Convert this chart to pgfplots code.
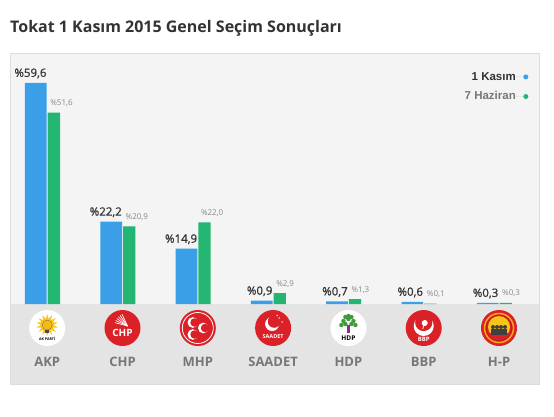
\documentclass[border=0pt]{standalone}
\usepackage{pgfplots}
\pgfplotsset{compat=1.18}
\usetikzlibrary{shapes.geometric}
\usepackage{fontspec}
\setmainfont{Open Sans}
\newfontfamily\arialf{Liberation Sans}
\newfontfamily\osemi{Open Sans}[FakeBold=0.7]
\definecolor{cblue}{HTML}{3A9FE6}
\definecolor{cgreen}{HTML}{22B672}
\definecolor{panel}{HTML}{F4F4F4}
\definecolor{band}{HTML}{E4E4E4}
\definecolor{bord}{HTML}{DDDDDD}
\definecolor{lblgray}{HTML}{777777}
\definecolor{smallgray}{HTML}{888888}
\definecolor{dark}{HTML}{333333}
\definecolor{pred}{HTML}{DA2128}
\definecolor{hdpgreen}{HTML}{3E9A3A}
\definecolor{hdppurple}{HTML}{8B2C8E}
\definecolor{sunyellow}{HTML}{F7C418}
\begin{document}
\begin{tikzpicture}
\useasboundingbox[fill=white] (0,0) rectangle (554pt,417pt);
\begin{axis}[
  at={(10pt,33pt)}, anchor=south west,
  scale only axis, width=529pt, height=331pt,
  xmin=-0.494, xmax=6.531, ymin=-21.56, ymax=67.65,
  axis background/.style={fill=panel},
  axis line style={draw=bord},
  axis on top,
  xtick={0,...,6},
  xticklabels={AKP,CHP,MHP,SAADET,HDP,BBP,H-P},
  xticklabel style={anchor=center, yshift=22pt, font=\fontsize{13}{13}\selectfont\bfseries, text=lblgray},
  major tick length=0pt, ytick=\empty,
  clip=false,
  title={Tokat 1 Kasım 2015 Genel Seçim Sonuçları},
  title style={at={(0,1)}, anchor=base west, yshift=14pt, inner sep=0pt, font=\fontsize{16}{16}\selectfont\bfseries, text=dark},
  legend style={at={(1,1)}, anchor=north east, xshift=-10.5pt, yshift=-19pt, draw=none, fill=none, inner sep=0pt,
    row sep=10pt, column sep=0pt,
    font=\arialf\bfseries\fontsize{11.5}{11.5}\selectfont,
    nodes={inner sep=0pt}},
  legend cell align=right,
  legend plot pos=right,
]
% grey band under the bars
\fill[band] (axis cs:-0.494,-21.56) rectangle (axis cs:6.531,0);

\addplot[ybar, bar width=21.7pt, bar shift=-11.35pt, fill=cblue, draw=none,
  legend image code/.code={\path (-2pt,0pt) -- (10.5pt,0pt); \fill[cblue] (8pt,0pt) circle (2.5pt);},
  nodes near coords, point meta=explicit symbolic,
  every node near coord/.style={anchor=base east, inner sep=0pt, xshift=-0.5pt, yshift=6pt,
    font=\osemi\fontsize{11.5}{11.5}\selectfont, text=dark}]
  coordinates {(0,59.6)[\%59,6] (1,22.2)[\%22,2] (2,14.9)[\%14,9] (3,0.9)[\%0,9] (4,0.7)[\%0,7] (5,0.6)[\%0,6] (6,0.3)[\%0,3]};
\addlegendentry{\textcolor{dark}{1 Kasım}}

\addplot[ybar, bar width=12.3pt, bar shift=6.65pt, fill=cgreen, draw=none,
  legend image code/.code={\path (-2pt,0pt) -- (10.5pt,0pt); \fill[cgreen] (8pt,0pt) circle (2.5pt);},
  nodes near coords, point meta=explicit symbolic,
  every node near coord/.style={anchor=base west, inner sep=0pt, xshift=3pt, yshift=7pt,
    font=\fontsize{8}{8}\selectfont, text=smallgray}]
  coordinates {(0,51.6)[\%51,6] (1,20.9)[\%20,9] (2,22.0)[\%22,0] (3,2.9)[\%2,9] (4,1.3)[\%1,3] (5,0.1)[\%0,1] (6,0.3)[\%0,3]};
\addlegendentry{\textcolor{lblgray}{7 Haziran}}

% party logo discs
\fill[white] (axis cs:0,-6.47) circle (18pt);
\fill[pred] (axis cs:1,-6.47) circle (18pt);
\fill[pred] (axis cs:2,-6.47) circle (18pt);
\fill[pred] (axis cs:3,-6.47) circle (18pt);
\fill[white] (axis cs:4,-6.47) circle (18pt);
\fill[pred] (axis cs:5,-6.47) circle (18pt);
\fill[pred] (axis cs:6,-6.47) circle (18pt);

% AKP
\node[star, star points=14, star point ratio=1.8, fill=sunyellow, inner sep=0pt, minimum size=22pt] at ([yshift=3pt]axis cs:0,-6.47) {};
\fill[sunyellow!85!orange, draw=black!60, line width=0.3pt] ([yshift=3pt]axis cs:0,-6.47) circle (5pt);
\fill[black!70] ([shift={(-2pt,-5pt)}]axis cs:0,-6.47) rectangle ([shift={(2pt,-1.5pt)}]axis cs:0,-6.47);
\node[font=\bfseries\fontsize{3.6}{4}\selectfont, inner sep=0pt] at ([yshift=-10.5pt]axis cs:0,-6.47) {AK PARTİ};
% CHP
\draw[white, line width=0.7pt] ([shift={(5pt,2pt)}]axis cs:1,-6.47) -- ++(115:13pt);
\draw[white, line width=0.7pt] ([shift={(5pt,2pt)}]axis cs:1,-6.47) -- ++(125:13pt);
\draw[white, line width=0.7pt] ([shift={(5pt,2pt)}]axis cs:1,-6.47) -- ++(135:13pt);
\draw[white, line width=0.7pt] ([shift={(5pt,2pt)}]axis cs:1,-6.47) -- ++(145:13pt);
\draw[white, line width=0.7pt] ([shift={(5pt,2pt)}]axis cs:1,-6.47) -- ++(155:13pt);
\draw[white, line width=0.7pt] ([shift={(5pt,2pt)}]axis cs:1,-6.47) -- ++(165:13pt);
\node[font=\bfseries\fontsize{10}{10}\selectfont, text=white, inner sep=0pt] at ([yshift=-5pt]axis cs:1,-6.47) {CHP};
% MHP
\draw[white, line width=0.8pt] (axis cs:2,-6.47) circle (15.5pt);
\fill[white] ([shift={(-5pt,5.5pt)}]axis cs:2,-6.47) circle (5.3pt);
\fill[pred] ([shift={(-3.2pt,5.5pt)}]axis cs:2,-6.47) circle (4.3pt);
\fill[white] ([shift={(-5pt,-6.5pt)}]axis cs:2,-6.47) circle (5.3pt);
\fill[pred] ([shift={(-3.2pt,-6.5pt)}]axis cs:2,-6.47) circle (4.3pt);
\fill[white] ([shift={(5.5pt,0pt)}]axis cs:2,-6.47) circle (5.3pt);
\fill[pred] ([shift={(7.3pt,0pt)}]axis cs:2,-6.47) circle (4.3pt);
% SAADET
\fill[white] ([shift={(-1pt,4pt)}]axis cs:3,-6.47) circle (7pt);
\fill[pred] ([shift={(1pt,6.5pt)}]axis cs:3,-6.47) circle (6.3pt);
\fill[white] ([shift={(6pt,10pt)}]axis cs:3,-6.47) circle (0.8pt);
\fill[white] ([shift={(9pt,6pt)}]axis cs:3,-6.47) circle (0.8pt);
\fill[white] ([shift={(4pt,12.5pt)}]axis cs:3,-6.47) circle (0.8pt);
\node[font=\bfseries\fontsize{5.5}{6}\selectfont, text=white, inner sep=0pt] at ([yshift=-9pt]axis cs:3,-6.47) {SAADET};
% HDP
\fill[hdpgreen] ([shift={(0pt,9pt)}]axis cs:4,-6.47) circle (2.2pt);
\fill[hdpgreen] ([shift={(-5pt,7pt)}]axis cs:4,-6.47) circle (2.2pt);
\fill[hdpgreen] ([shift={(5pt,7pt)}]axis cs:4,-6.47) circle (2.2pt);
\fill[hdpgreen] ([shift={(-7pt,3pt)}]axis cs:4,-6.47) circle (2.2pt);
\fill[hdpgreen] ([shift={(7pt,3pt)}]axis cs:4,-6.47) circle (2.2pt);
\fill[hdpgreen] ([shift={(-3pt,4pt)}]axis cs:4,-6.47) circle (2.2pt);
\fill[hdpgreen] ([shift={(3pt,4pt)}]axis cs:4,-6.47) circle (2.2pt);
\fill[hdpgreen] ([shift={(0pt,12pt)}]axis cs:4,-6.47) circle (2.2pt);
\fill[hdpgreen] ([shift={(-3pt,11pt)}]axis cs:4,-6.47) circle (2.2pt);
\fill[hdpgreen] ([shift={(3pt,11pt)}]axis cs:4,-6.47) circle (2.2pt);
\fill[hdppurple] ([shift={(-1.5pt,-5pt)}]axis cs:4,-6.47) rectangle ([shift={(1.5pt,3pt)}]axis cs:4,-6.47);
\node[font=\bfseries\fontsize{6.5}{7}\selectfont, text=black, inner sep=0pt] at ([yshift=-10pt]axis cs:4,-6.47) {HDP};
% BBP
\fill[white] ([yshift=2pt]axis cs:5,-6.47) circle (10pt);
\fill[pred] ([yshift=5.5pt]axis cs:5,-6.47) circle (8.6pt);
\fill[white] ([shift={(1pt,5pt)}]axis cs:5,-6.47) circle (3pt);
\draw[white, line width=0.8pt] ([shift={(1pt,5pt)}]axis cs:5,-6.47) -- ([shift={(-1pt,-1pt)}]axis cs:5,-6.47);
\node[font=\bfseries\fontsize{6}{6}\selectfont, text=white, inner sep=0pt] at ([yshift=-11pt]axis cs:5,-6.47) {BBP};
% H-P
\fill[sunyellow] ([yshift=1pt]axis cs:6,-6.47) circle (11pt);
\fill[pred] ([shift={(-9pt,-5pt)}]axis cs:6,-6.47) rectangle ([shift={(9pt,-12pt)}]axis cs:6,-6.47);
\fill[black!75] ([shift={(-6pt,1pt)}]axis cs:6,-6.47) circle (2pt);
\fill[black!75] ([shift={(-2pt,1pt)}]axis cs:6,-6.47) circle (2pt);
\fill[black!75] ([shift={(2pt,1pt)}]axis cs:6,-6.47) circle (2pt);
\fill[black!75] ([shift={(6pt,1pt)}]axis cs:6,-6.47) circle (2pt);
\fill[black!75] ([shift={(-8pt,-7pt)}]axis cs:6,-6.47) rectangle ([shift={(8pt,-1pt)}]axis cs:6,-6.47);
\draw[sunyellow!60!orange, line width=1.5pt] (axis cs:6,-6.47) circle (14.5pt);
\draw[pred!80!black, line width=0.6pt] (axis cs:6,-6.47) circle (13pt);
\end{axis}
\end{tikzpicture}
\end{document}
